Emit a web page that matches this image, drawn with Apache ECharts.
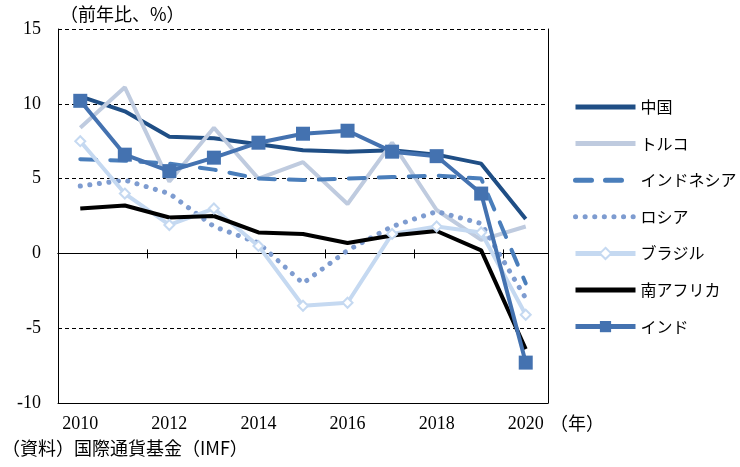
<!DOCTYPE html>
<html><head><meta charset="utf-8">
<script src="https://cdn.jsdelivr.net/npm/echarts@6/dist/echarts.min.js"></script>
<style>html,body{margin:0;padding:0;background:#fff}#c{width:740px;height:467px}</style>
</head><body><div id="c"></div>
<script>
const years = ['2010','2011','2012','2013','2014','2015','2016','2017','2018','2019','2020'];
const china     = [10.5, 9.5, 7.8, 7.7, 7.3, 6.9, 6.8, 6.9, 6.6, 6.0, 2.3];
const turkey    = [8.4, 11.1, 4.8, 8.4, 5.0, 6.1, 3.3, 7.4, 2.9, 0.9, 1.8];
const indonesia = [6.3, 6.2, 6.0, 5.6, 5.0, 4.9, 5.0, 5.1, 5.2, 5.0, -2.0];
const russia    = [4.5, 4.9, 4.0, 1.8, 0.7, -2.0, 0.2, 1.8, 2.8, 2.0, -3.0];
const brazil    = [7.5, 4.0, 1.9, 3.0, 0.5, -3.5, -3.3, 1.3, 1.8, 1.4, -4.1];
const southAfrica = [3.0, 3.2, 2.4, 2.5, 1.4, 1.3, 0.7, 1.2, 1.5, 0.2, -6.4];
const india     = [10.2, 6.6, 5.5, 6.4, 7.4, 8.0, 8.2, 6.8, 6.5, 4.0, -7.3];
const names = ['中国','トルコ','インドネシア','ロシア','ブラジル','南アフリカ','インド'];
const withMarker = ['ブラジル','インド'];
const yMin = -10, yMax = 15, yStep = 5;

const serif = '"Liberation Serif", "Noto Sans CJK JP", serif';
const jp = '"Noto Sans CJK JP", sans-serif';
const gridBox = {left: 58, right: 192, top: 29, bottom: 64};

const chart = echarts.init(document.getElementById('c'));
const lineBase = (name, data, color, extra) => Object.assign({
  name, type: 'line', data, xAxisIndex: 0, yAxisIndex: 0,
  symbol: 'none', smooth: false, animation: false,
  lineStyle: {color, width: 4},
  itemStyle: {color},
  emphasis: {disabled: true}
}, extra || {});

chart.setOption({
  animation: false,
  grid: [Object.assign({}, gridBox), Object.assign({}, gridBox)],
  xAxis: [
    {type: 'category', data: years, gridIndex: 0, position: 'bottom',
     axisLine: {onZero: false, lineStyle: {color: '#000', width: 1}},
     axisTick: {show: false},
     axisLabel: {interval: 1, color: '#000', fontSize: 18, fontFamily: serif, margin: 12},
     splitLine: {show: false}},
    {type: 'category', data: years, gridIndex: 0, position: 'top',
     axisLine: {onZero: true, lineStyle: {color: '#000', width: 1}},
     axisTick: {show: true, interval: 1, length: 4, lineStyle: {color: '#000'}},
     axisLabel: {show: false}, splitLine: {show: false}},
    {type: 'category', data: years, gridIndex: 1, position: 'bottom',
     axisLine: {onZero: true, lineStyle: {color: '#000', width: 1}},
     axisTick: {show: true, interval: 1, length: 5, lineStyle: {color: '#000'}},
     axisLabel: {show: false}, splitLine: {show: false}}
  ],
  yAxis: [
    {type: 'value', gridIndex: 0, position: 'left', min: yMin, max: yMax, interval: yStep,
     axisLine: {show: true, lineStyle: {color: '#000', width: 1}},
     axisTick: {show: false},
     axisLabel: {color: '#000', fontSize: 18, fontFamily: serif, margin: 17},
     splitLine: {show: true, lineStyle: {color: '#000', width: 1, type: [4, 3]}}},
    {type: 'value', gridIndex: 0, position: 'right', min: yMin, max: yMax, interval: yStep,
     axisLine: {show: true, lineStyle: {color: '#000', width: 1}},
     axisTick: {show: false}, axisLabel: {show: false}, splitLine: {show: false}},
    {type: 'value', gridIndex: 1, min: yMin, max: yMax, interval: yStep, show: false}
  ],
  legend: {
    orient: 'vertical', left: 568, top: 94,
    itemWidth: 60, itemHeight: 14, itemGap: 20.6,
    selectedMode: false,
    lineStyle: {width: 5},
    textStyle: {color: '#000', fontSize: 16, lineHeight: 16, fontFamily: jp},
    data: names.map(n => withMarker.includes(n) ? {name: n} : {name: n, itemStyle: {opacity: 0}})
  },
  graphic: [
    {type: 'text', left: 60, top: 5, style: {text: '（前年比、%）', font: '18px ' + jp, fill: '#000'}},
    {type: 'text', left: 550, top: 414, style: {text: '（年）', font: '18px ' + jp, fill: '#000'}},
    {type: 'text', left: 2, top: 439, style: {text: '（資料）国際通貨基金（IMF）', font: '18px ' + jp, fill: '#000'}}
  ],
  series: [
    lineBase('中国', china, '#1F4E85'),
    lineBase('トルコ', turkey, '#BFCBDF'),
    lineBase('インドネシア', indonesia, '#4A7EBB', {lineStyle: {color: '#4A7EBB', width: 4, type: [16, 14], cap: 'round'}}),
    lineBase('ロシア', russia, '#7E9CD0', {lineStyle: {color: '#7E9CD0', width: 5, type: [0.1, 9.5], cap: 'round'}}),
    lineBase('ブラジル', brazil, '#C5D9F1', {symbol: 'diamond', symbolSize: 10, showSymbol: true,
      itemStyle: {color: '#fff', borderColor: '#C5D9F1', borderWidth: 2}}),
    lineBase('南アフリカ', southAfrica, '#000000'),
    lineBase('インド', india, '#4472B0', {symbol: 'rect', symbolSize: 14, showSymbol: true,
      itemStyle: {color: '#4472B0'}})
  ]
});
</script>
</body></html>
